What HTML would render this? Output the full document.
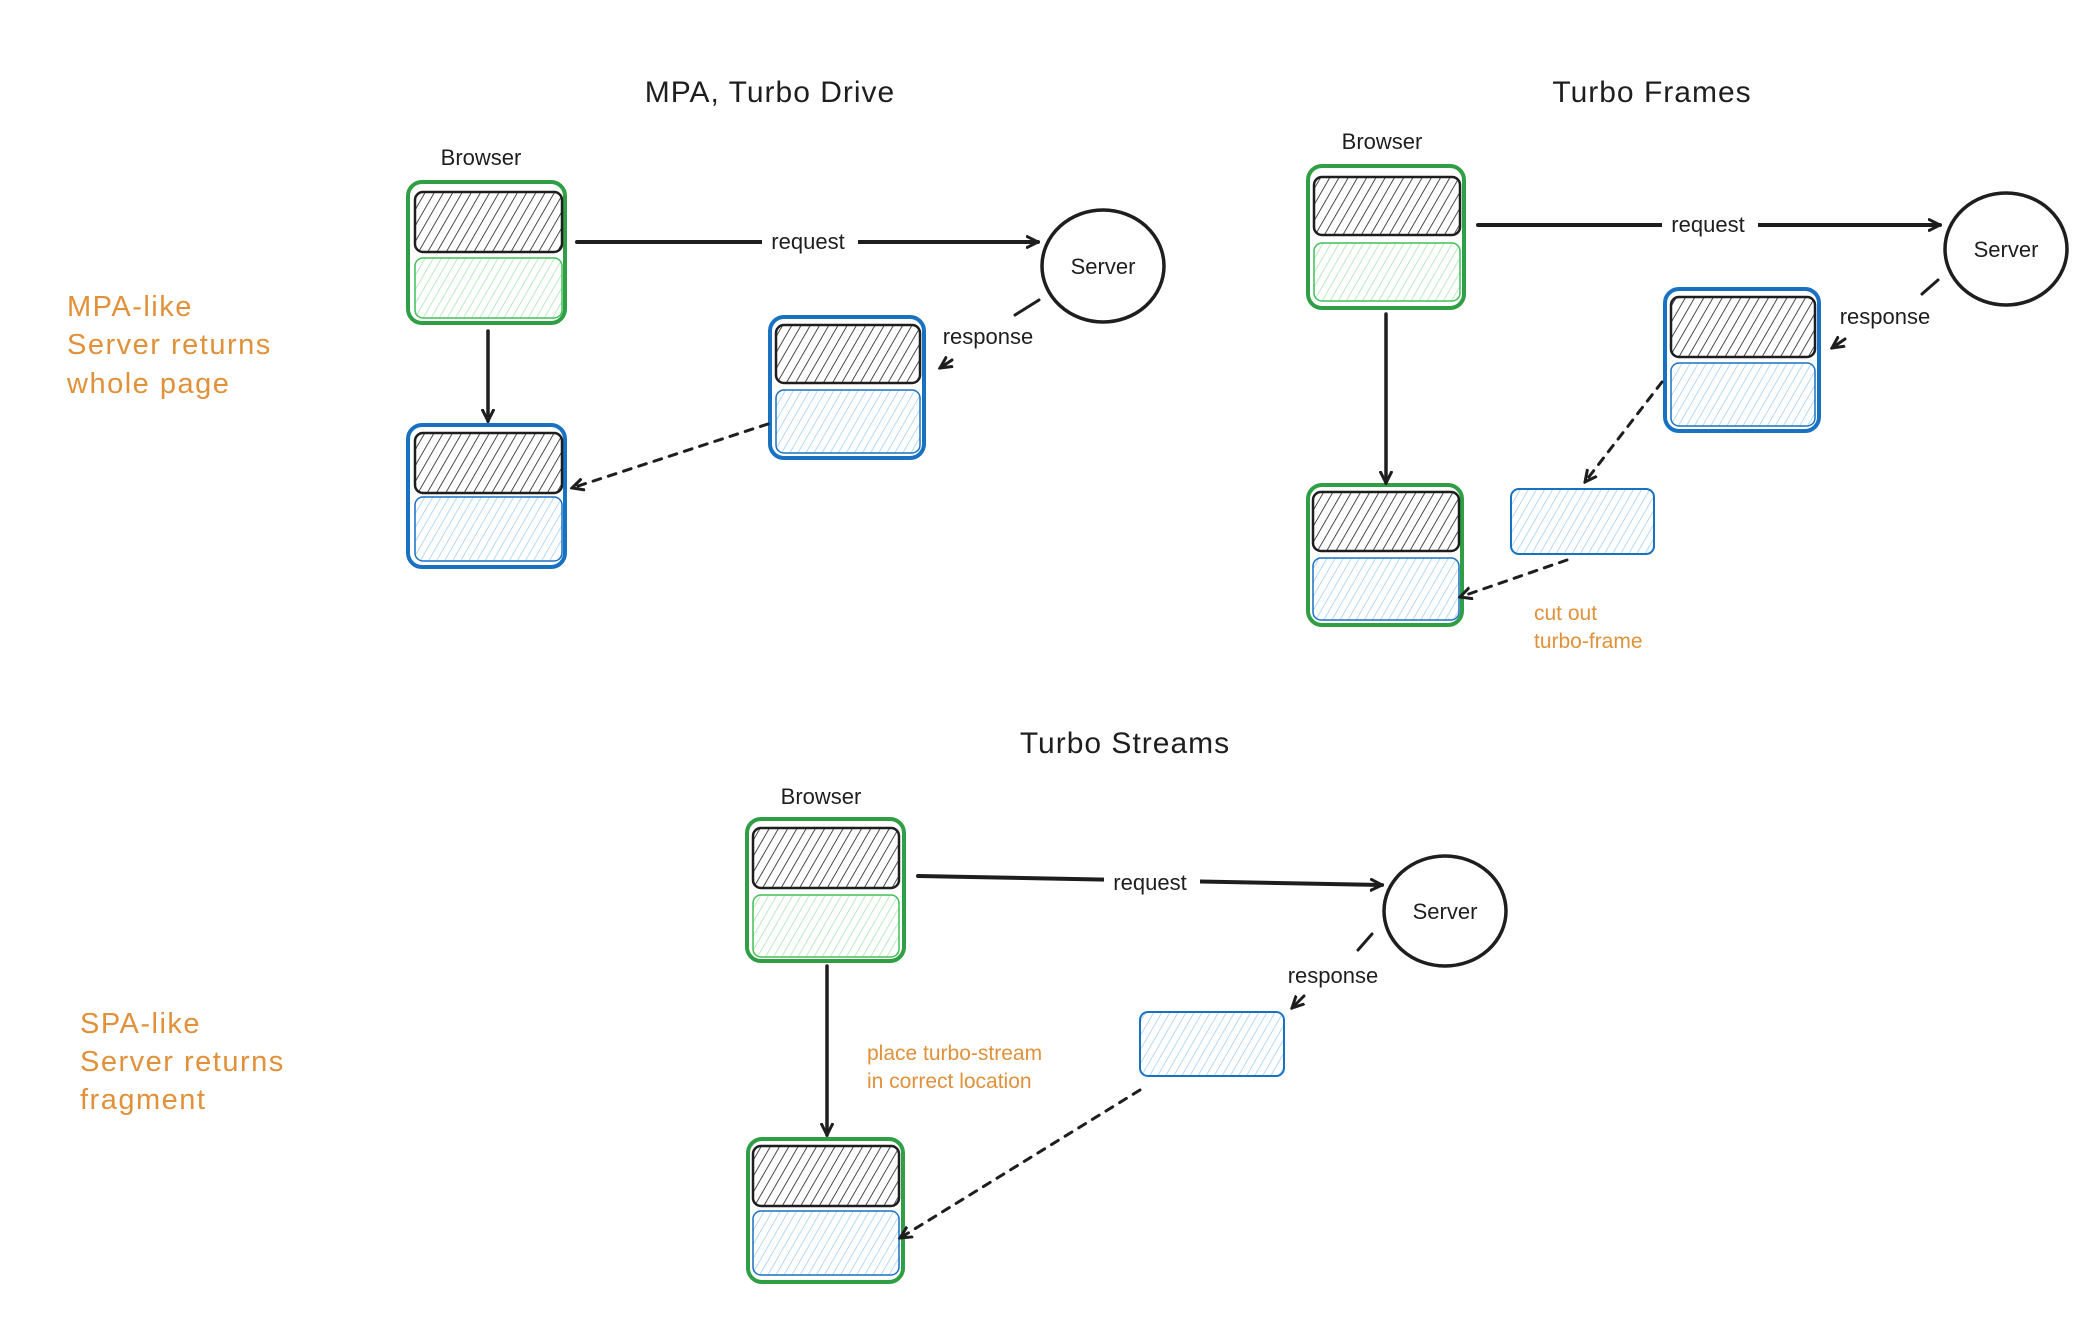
<!DOCTYPE html>
<html><head><meta charset="utf-8"><style>
html,body{margin:0;padding:0;background:#fff;}
svg{display:block;}
text{font-family:"Liberation Sans",sans-serif;}
.t{font-size:30px;fill:#1e1e1e;text-anchor:middle;letter-spacing:1px;}
.l{font-size:22px;fill:#1e1e1e;text-anchor:middle;}
.o{font-size:29px;fill:#e0913a;letter-spacing:1.5px;}
.os{font-size:21px;fill:#e0913a;}
</style></head><body>
<svg width="2094" height="1338" viewBox="0 0 2094 1338" xmlns="http://www.w3.org/2000/svg">
<defs>
<pattern id="hk" width="8" height="8" patternUnits="userSpaceOnUse" patternTransform="rotate(30)"><line x1="0" y1="0" x2="0" y2="8" stroke="#1e1e1e" stroke-width="1.6"/></pattern>
<pattern id="hg" width="7" height="7" patternUnits="userSpaceOnUse" patternTransform="rotate(30)"><line x1="0" y1="0" x2="0" y2="7" stroke="#a3e6ad" stroke-width="1.5"/></pattern>
<pattern id="hb" width="7" height="7" patternUnits="userSpaceOnUse" patternTransform="rotate(30)"><line x1="0" y1="0" x2="0" y2="7" stroke="#9ccdf5" stroke-width="1.5"/></pattern>
<marker id="a" markerWidth="14" markerHeight="14" refX="12" refY="7" orient="auto" markerUnits="userSpaceOnUse"><path d="M0,1 L12,7 L0,13" fill="none" stroke="#1e1e1e" stroke-width="3"/></marker>
</defs>
<g fill="none" stroke-linecap="round">
<rect x="408" y="182" width="157" height="141" rx="14" stroke="#2f9e44" stroke-width="4"/>
<rect x="415" y="192" width="147" height="60" rx="8" fill="url(#hk)" stroke="#1e1e1e" stroke-width="2.5"/>
<rect x="415" y="258" width="147" height="60" rx="8" fill="url(#hg)" stroke="#40c057" stroke-width="1.5"/>
<rect x="770" y="317" width="154" height="141" rx="14" stroke="#1971c2" stroke-width="4"/>
<rect x="776" y="325" width="144" height="58" rx="8" fill="url(#hk)" stroke="#1e1e1e" stroke-width="2.5"/>
<rect x="776" y="390" width="144" height="63" rx="8" fill="url(#hb)" stroke="#1971c2" stroke-width="1.5"/>
<rect x="408" y="425" width="157" height="142" rx="14" stroke="#1971c2" stroke-width="4"/>
<rect x="415" y="433" width="147" height="60" rx="8" fill="url(#hk)" stroke="#1e1e1e" stroke-width="2.5"/>
<rect x="415" y="497" width="147" height="64" rx="8" fill="url(#hb)" stroke="#1971c2" stroke-width="1.5"/>
<ellipse cx="1103" cy="266" rx="61" ry="56" stroke="#1e1e1e" stroke-width="3.5"/>
<line x1="577" y1="242" x2="1038" y2="242" stroke="#1e1e1e" stroke-width="4" marker-end="url(#a)"/>
<line x1="1039" y1="300" x2="1015" y2="315" stroke="#1e1e1e" stroke-width="3"/>
<line x1="952" y1="360" x2="940" y2="368" stroke="#1e1e1e" stroke-width="3" marker-end="url(#a)"/>
<line x1="488" y1="331" x2="488" y2="421" stroke="#1e1e1e" stroke-width="3.5" marker-end="url(#a)"/>
<line x1="768" y1="424" x2="572" y2="488" stroke="#1e1e1e" stroke-width="3" stroke-dasharray="8 8" marker-end="url(#a)"/>
<rect x="1308" y="166" width="156" height="142" rx="14" stroke="#2f9e44" stroke-width="4"/>
<rect x="1314" y="177" width="146" height="58" rx="8" fill="url(#hk)" stroke="#1e1e1e" stroke-width="2.5"/>
<rect x="1314" y="243" width="146" height="58" rx="8" fill="url(#hg)" stroke="#40c057" stroke-width="1.5"/>
<rect x="1665" y="289" width="154" height="142" rx="14" stroke="#1971c2" stroke-width="4"/>
<rect x="1671" y="297" width="144" height="60" rx="8" fill="url(#hk)" stroke="#1e1e1e" stroke-width="2.5"/>
<rect x="1671" y="363" width="144" height="63" rx="8" fill="url(#hb)" stroke="#1971c2" stroke-width="1.5"/>
<rect x="1308" y="485" width="154" height="140" rx="14" stroke="#2f9e44" stroke-width="4"/>
<rect x="1313" y="492" width="146" height="59" rx="8" fill="url(#hk)" stroke="#1e1e1e" stroke-width="2.5"/>
<rect x="1313" y="558" width="146" height="62" rx="8" fill="url(#hb)" stroke="#1971c2" stroke-width="1.5"/>
<rect x="1511" y="489" width="143" height="65" rx="8" fill="url(#hb)" stroke="#1971c2" stroke-width="2"/>
<ellipse cx="2006" cy="249" rx="61" ry="56" stroke="#1e1e1e" stroke-width="3.5"/>
<line x1="1478" y1="225" x2="1940" y2="225" stroke="#1e1e1e" stroke-width="4" marker-end="url(#a)"/>
<line x1="1938" y1="280" x2="1922" y2="294" stroke="#1e1e1e" stroke-width="3"/>
<line x1="1845" y1="339" x2="1832" y2="348" stroke="#1e1e1e" stroke-width="3" marker-end="url(#a)"/>
<line x1="1386" y1="314" x2="1386" y2="483" stroke="#1e1e1e" stroke-width="3.5" marker-end="url(#a)"/>
<line x1="1662" y1="382" x2="1585" y2="482" stroke="#1e1e1e" stroke-width="3" stroke-dasharray="8 8" marker-end="url(#a)"/>
<line x1="1567" y1="560" x2="1460" y2="597" stroke="#1e1e1e" stroke-width="3" stroke-dasharray="8 8" marker-end="url(#a)"/>
<rect x="747" y="819" width="157" height="142" rx="14" stroke="#2f9e44" stroke-width="4"/>
<rect x="753" y="828" width="146" height="60" rx="8" fill="url(#hk)" stroke="#1e1e1e" stroke-width="2.5"/>
<rect x="753" y="895" width="146" height="62" rx="8" fill="url(#hg)" stroke="#40c057" stroke-width="1.5"/>
<rect x="748" y="1139" width="155" height="143" rx="14" stroke="#2f9e44" stroke-width="4"/>
<rect x="753" y="1146" width="146" height="60" rx="8" fill="url(#hk)" stroke="#1e1e1e" stroke-width="2.5"/>
<rect x="753" y="1211" width="146" height="64" rx="8" fill="url(#hb)" stroke="#1971c2" stroke-width="1.5"/>
<rect x="1140" y="1012" width="144" height="64" rx="8" fill="url(#hb)" stroke="#1971c2" stroke-width="2"/>
<ellipse cx="1445" cy="911" rx="61" ry="55" stroke="#1e1e1e" stroke-width="3.5"/>
<line x1="918" y1="876" x2="1382" y2="885" stroke="#1e1e1e" stroke-width="4" marker-end="url(#a)"/>
<line x1="1372" y1="934" x2="1358" y2="950" stroke="#1e1e1e" stroke-width="3"/>
<line x1="1304" y1="996" x2="1292" y2="1008" stroke="#1e1e1e" stroke-width="3" marker-end="url(#a)"/>
<line x1="827" y1="966" x2="827" y2="1135" stroke="#1e1e1e" stroke-width="3.5" marker-end="url(#a)"/>
<line x1="1140" y1="1090" x2="900" y2="1238" stroke="#1e1e1e" stroke-width="3" stroke-dasharray="8 8" marker-end="url(#a)"/>
</g>
<rect x="762" y="228" width="96" height="28" fill="#fff"/>
<rect x="1662" y="211" width="96" height="28" fill="#fff"/>
<rect x="1104" y="868" width="96" height="28" fill="#fff"/>
<text class="t" x="770" y="102">MPA, Turbo Drive</text>
<text class="t" x="1652" y="102">Turbo Frames</text>
<text class="t" x="1125" y="753">Turbo Streams</text>
<text class="l" x="481" y="165">Browser</text>
<text class="l" x="1382" y="149">Browser</text>
<text class="l" x="821" y="804">Browser</text>
<text class="l" x="808" y="249">request</text>
<text class="l" x="1708" y="232">request</text>
<text class="l" x="1150" y="890">request</text>
<text class="l" x="1103" y="274">Server</text>
<text class="l" x="2006" y="257">Server</text>
<text class="l" x="1445" y="919">Server</text>
<text class="l" x="988" y="344">response</text>
<text class="l" x="1885" y="324">response</text>
<text class="l" x="1333" y="983">response</text>
<text class="os" x="1534" y="620">cut out</text>
<text class="os" x="1534" y="648">turbo-frame</text>
<text class="os" x="867" y="1060">place turbo-stream</text>
<text class="os" x="867" y="1088">in correct location</text>
<text class="o" x="67" y="316">MPA-like</text>
<text class="o" x="67" y="354">Server returns</text>
<text class="o" x="67" y="393">whole page</text>
<text class="o" x="80" y="1033">SPA-like</text>
<text class="o" x="80" y="1071">Server returns</text>
<text class="o" x="80" y="1109">fragment</text>
</svg>
</body></html>
